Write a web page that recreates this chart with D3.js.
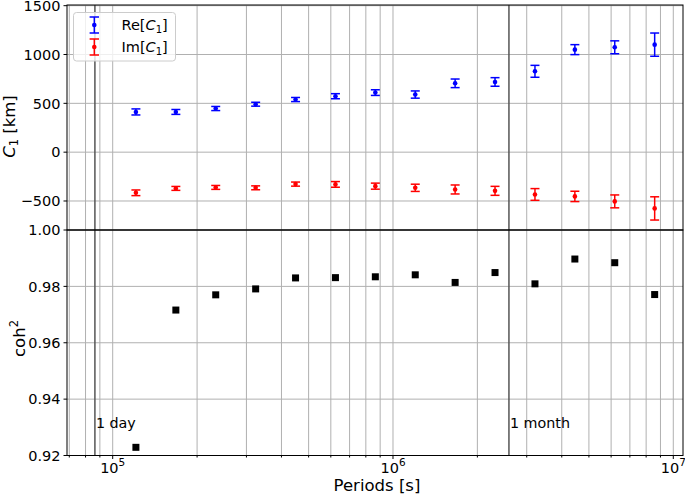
<!DOCTYPE html>
<html>
<head>
<meta charset="utf-8">
<script src="https://d3js.org/d3.v7.min.js"></script>
<style>
  body { margin: 0; background: #fff; }
  svg text { font-family: "DejaVu Sans", sans-serif; fill: #000; }
</style>
</head>
<body>
<svg id="chart" width="685" height="495"></svg>
<script>
// periods [s] of the estimates
const periods = [121000, 168000, 233100, 323600, 449100, 623300, 865000,
                 1200600, 1666000, 2312000, 3210000, 4455000, 6182000, 8581000];
// Re[C1] and Im[C1] in km, with error bars
const reC1  = [412, 412, 447, 491, 539, 573, 610, 590, 705, 719, 828, 1050, 1074, 1101];
const reErr = [31, 25, 21, 20, 21, 26, 29, 37, 44, 44, 61, 51, 66, 119];
const imC1  = [-416, -371, -361, -365, -327, -330, -348, -365, -382, -396, -433, -453, -504, -576];
const imErr = [29, 20, 20, 20, 21, 29, 31, 37, 46, 46, 60, 53, 66, 119];
// squared coherence
const coh2 = [0.9229, 0.9716, 0.9770, 0.9791, 0.9830, 0.9831, 0.9834,
              0.9841, 0.9814, 0.9849, 0.9809, 0.9897, 0.9884, 0.9771];

const c1Ticks  = [-500, 0, 500, 1000, 1500];
const cohTicks = [0.92, 0.94, 0.96, 0.98, 1.00];
const xMajor   = [1e5, 1e6, 1e7];
const marks    = [{ label: "1 day", period: 86400 }, { label: "1 month", period: 2592000 }];

const left = 67, right = 683;
const top1 = 5, mid = 230, bot2 = 455.5;

const svg = d3.select("#chart");

const x = d3.scaleLog().domain([6.87e4, 1.083e7]).range([left, right]);
const yTop = d3.scaleLinear().domain([-797, 1507]).range([mid, top1]);
const yBot = d3.scaleLinear().domain([0.92, 1.00]).range([bot2, mid]);

const gridCol = "#b0b0b0";
const xAll = x.ticks();  // 7e4 .. 1e7, majors + minors

// vertical grid in both panels
svg.append("g").selectAll("line")
  .data(xAll).join("line")
  .attr("x1", d => x(d)).attr("x2", d => x(d))
  .attr("y1", top1).attr("y2", bot2)
  .attr("stroke", gridCol).attr("stroke-width", 1);

// horizontal grid
svg.append("g").selectAll("line")
  .data(c1Ticks).join("line")
  .attr("x1", left).attr("x2", right)
  .attr("y1", d => yTop(d)).attr("y2", d => yTop(d))
  .attr("stroke", gridCol).attr("stroke-width", 1);
svg.append("g").selectAll("line")
  .data(cohTicks).join("line")
  .attr("x1", left).attr("x2", right)
  .attr("y1", d => yBot(d)).attr("y2", d => yBot(d))
  .attr("stroke", gridCol).attr("stroke-width", 1);

// 1 day / 1 month lines
svg.append("g").selectAll("line")
  .data(marks).join("line")
  .attr("x1", d => x(d.period)).attr("x2", d => x(d.period))
  .attr("y1", top1).attr("y2", bot2)
  .attr("stroke", "#555").attr("stroke-width", 1.5);
svg.append("g").selectAll("text")
  .data(marks).join("text")
  .attr("x", d => x(d.period) + 1)
  .attr("y", 427.5)
  .attr("font-size", 14.3)
  .text(d => d.label);

// error bars
function errorSeries(vals, errs, color) {
  const g = svg.append("g");
  const rows = periods.map((p, i) => ({ p, v: vals[i], e: errs[i] }));
  g.selectAll(".bar").data(rows).join("line")
    .attr("x1", d => x(d.p)).attr("x2", d => x(d.p))
    .attr("y1", d => yTop(d.v - d.e)).attr("y2", d => yTop(d.v + d.e))
    .attr("stroke", color).attr("stroke-width", 1.5);
  [-1, 1].forEach(s => {
    g.selectAll(".cap" + s).data(rows).join("line")
      .attr("x1", d => x(d.p) - 4.5).attr("x2", d => x(d.p) + 4.5)
      .attr("y1", d => yTop(d.v + s * d.e)).attr("y2", d => yTop(d.v + s * d.e))
      .attr("stroke", color).attr("stroke-width", 1.5);
  });
  g.selectAll("circle").data(rows).join("circle")
    .attr("cx", d => x(d.p)).attr("cy", d => yTop(d.v))
    .attr("r", 2.3).attr("fill", color);
}
errorSeries(reC1, reErr, "#0000ff");
errorSeries(imC1, imErr, "#ff0000");

// coherence squares
svg.append("g").selectAll("rect")
  .data(periods.map((p, i) => ({ p, c: coh2[i] }))).join("rect")
  .attr("x", d => x(d.p) - 3.5).attr("y", d => yBot(d.c) - 3.5)
  .attr("width", 7).attr("height", 7)
  .attr("fill", "#000");

// spines
svg.append("rect").attr("x", left).attr("y", top1)
  .attr("width", right - left).attr("height", mid - top1)
  .attr("fill", "none").attr("stroke", "#000").attr("stroke-width", 1);
svg.append("rect").attr("x", left).attr("y", mid)
  .attr("width", right - left).attr("height", bot2 - mid)
  .attr("fill", "none").attr("stroke", "#000").attr("stroke-width", 1);

// y ticks and labels
const tickFont = 14.5;
function yTicks(scale, ticks, fmt) {
  const g = svg.append("g");
  g.selectAll("line").data(ticks).join("line")
    .attr("x1", left - 3.5).attr("x2", left)
    .attr("y1", d => scale(d)).attr("y2", d => scale(d))
    .attr("stroke", "#000").attr("stroke-width", 1);
  g.selectAll("text").data(ticks).join("text")
    .attr("x", left - 6.5).attr("y", d => scale(d))
    .attr("dy", "0.36em")
    .attr("text-anchor", "end")
    .attr("font-size", tickFont)
    .text(fmt);
}
yTicks(yTop, c1Ticks, d => d < 0 ? "\u2212" + Math.abs(d) : String(d));
yTicks(yBot, cohTicks, d3.format(".2f"));

// x ticks
svg.append("g").selectAll("line").data(xAll).join("line")
  .attr("x1", d => x(d)).attr("x2", d => x(d))
  .attr("y1", bot2)
  .attr("y2", d => bot2 + (xMajor.includes(d) ? 3.5 : 2))
  .attr("stroke", "#000").attr("stroke-width", 1);
const xl = svg.append("g").selectAll("text").data(xMajor).join("text")
  .attr("x", d => x(d)).attr("y", 473)
  .attr("text-anchor", "middle")
  .attr("font-size", tickFont);
xl.append("tspan").text("10");
xl.append("tspan").attr("dy", -7).attr("font-size", 10.5)
  .text(d => Math.round(Math.log10(d)));

// axis labels
svg.append("text").attr("x", (left + right) / 2 + 2).attr("y", 491)
  .attr("text-anchor", "middle").attr("font-size", 16.5)
  .text("Periods [s]");

const yl1 = svg.append("text")
  .attr("transform", "translate(15,126.5) rotate(-90)")
  .attr("text-anchor", "middle").attr("font-size", 16.5);
yl1.append("tspan").attr("font-style", "italic").text("C");
yl1.append("tspan").attr("font-size", 11.5).attr("dy", 3).text("1");
yl1.append("tspan").attr("dy", -3).text(" [km]");

const yl2 = svg.append("text")
  .attr("transform", "translate(25,338.5) rotate(-90)")
  .attr("text-anchor", "middle").attr("font-size", 16.5);
yl2.append("tspan").text("coh");
yl2.append("tspan").attr("font-size", 11.5).attr("dy", -7).text("2");

// legend
const lg = svg.append("g");
lg.append("rect").attr("x", 73.5).attr("y", 12.5)
  .attr("width", 102).attr("height", 48.5).attr("rx", 3)
  .attr("fill", "#fff").attr("fill-opacity", 0.8)
  .attr("stroke", "#ccc").attr("stroke-width", 1);
const legendItems = [
  { name: "Re", color: "#0000ff", cy: 25 },
  { name: "Im", color: "#ff0000", cy: 47 }
];
legendItems.forEach(it => {
  const g = lg.append("g");
  const cx = 94.3;
  g.append("line").attr("x1", cx).attr("x2", cx)
    .attr("y1", it.cy - 8).attr("y2", it.cy + 8)
    .attr("stroke", it.color).attr("stroke-width", 1.5);
  [-8, 8].forEach(o => g.append("line")
    .attr("x1", cx - 4.7).attr("x2", cx + 4.7)
    .attr("y1", it.cy + o).attr("y2", it.cy + o)
    .attr("stroke", it.color).attr("stroke-width", 1.5));
  g.append("circle").attr("cx", cx).attr("cy", it.cy).attr("r", 2.3).attr("fill", it.color);
  const t = g.append("text").attr("x", 121.5).attr("y", it.cy + 5.3).attr("font-size", 14.5);
  t.append("tspan").text(it.name + "[");
  t.append("tspan").attr("font-style", "italic").text("C");
  t.append("tspan").attr("font-size", 10).attr("dy", 2.5).text("1");
  t.append("tspan").attr("dy", -2.5).text("]");
});
</script>
</body>
</html>
